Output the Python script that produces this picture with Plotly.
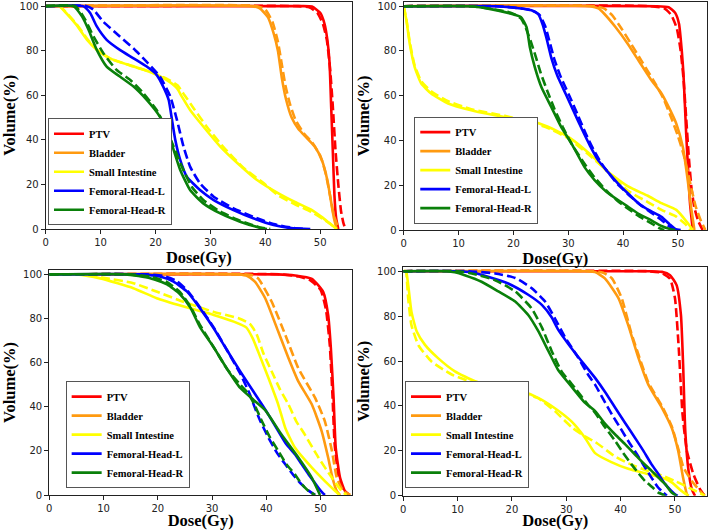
import plotly.graph_objects as go

# ---------------- data: (dose Gy, volume %) ----------------
# Panel 1 (top-left)
P1_PTV_S = [(0,100),(46,100),(48.5,99.8),(50,97),(50.8,92),(51.3,85),(51.7,75),(52.0,55),(52.3,35),(52.6,15),(52.9,5),(53.3,0)]
P1_PTV_D = [(0,100),(46,100),(48,99.5),(49.5,97),(50.5,92),(51.2,85),(51.8,72),(52.3,55),(52.8,35),(53.3,20),(53.8,8),(54.2,3),(54.6,0)]
P1_BLA_S = [(0,100),(37.5,100),(39,99),(40.5,95),(41.5,88),(42.3,80),(43,68),(43.8,58),(44.8,50),(46,45),(47.5,41),(49,37),(50.3,31),(51.3,22),(52,12),(52.5,5),(53,0)]
P1_BLA_D = [(0,100),(38.5,100),(40,98.5),(41.3,93),(42.3,84),(43,74),(43.7,64),(44.5,56),(45.5,49),(47,43),(48.5,39),(50,33),(51,25),(51.8,15),(52.5,6),(53.4,0)]
P1_SI_S = [(0,100),(2.4,100),(3.5,97.5),(5.6,91.6),(7.5,85),(9.3,80.4),(11.7,76.6),(16,72.9),(19.6,69.9),(22,66.9),(23.9,63.2),(24.8,59.4),(26.3,53.4),(28.7,46),(31.8,37),(35.4,28.5),(38.5,22),(42.4,16),(45.5,12),(48.5,8.5),(50.5,5),(51.5,3),(52.5,1),(53,0)]
P1_SI_D = [(0,100),(2.5,100),(3.6,97.5),(5.6,92),(7.5,85.5),(9.3,80.5),(11.7,76.5),(16,73),(19.6,70),(22,67.5),(24,64.5),(25.3,60),(27,54),(29.3,46),(32.3,37),(36,27.5),(40,20),(42.4,15),(45.5,11),(48.5,7.5),(50.5,4.5),(52,2),(53,0)]
P1_FHL_S = [(0,100),(6.8,100),(8.1,96.9),(9.3,90.9),(11.1,84.9),(13.5,80.4),(16,76.6),(18.4,72.9),(20.2,69.2),(21.4,63.9),(22.4,57.9),(23,49),(23.6,40),(24.5,31),(25.7,23.5),(28.1,17.5),(30.6,13),(34.2,8.5),(37.8,4.8),(41.5,1.8),(45.1,0.3),(48.2,0)]
P1_FHL_D = [(0,100),(7.5,100),(8.7,98.4),(10.5,93),(13.5,86.4),(16,81),(18.4,75),(20.8,68.4),(22.7,59.4),(23.9,49),(25.1,37),(26.3,28),(28.1,20.5),(30.6,14.5),(34.2,9.3),(37.8,5.5),(41.5,2.2),(45.1,0.5),(47.6,0)]
P1_FHR_S = [(0,100),(5,100),(6.6,95.4),(7.8,89.4),(9.3,80.4),(11.1,72.9),(13.5,68.4),(16,63.9),(18.4,57.9),(20.8,50.4),(22.4,43),(23.3,35.5),(24.5,26.5),(26.3,17.5),(28.7,11.5),(31.8,7),(35.4,3.3),(39,0.6),(40.3,0)]
P1_FHR_D = [(0,100),(5.4,100),(7.2,93.9),(8.7,86.4),(10.5,78.9),(12.9,71.4),(15.4,66.9),(17.8,60.9),(20.2,53.4),(22,44.5),(23.3,37),(24.8,28),(26.6,19),(28.7,13),(31.8,7.8),(35.4,3.7),(39,0.7),(40.9,0)]

# Panel 2 (top-right)
P2_PTV_S = [(0,100),(46,100),(48.3,99.5),(49.5,97),(50.2,92),(50.7,80),(51.0,70),(51.5,43),(51.9,25),(52.2,12),(52.7,0)]
P2_PTV_D = [(0,100),(45,100),(47.5,99),(48.8,96),(49.8,90),(50.5,80),(51,68),(51.5,50),(52,32),(52.5,18),(53,10),(53.7,4),(54.5,0)]
P2_BLA_S = [(0,100),(34,100),(35.5,99),(36.6,96.5),(38.5,91),(40.9,83),(43,75),(45,67.5),(47,61),(48.5,54),(49.7,47.5),(50.9,37),(51.8,22),(52.4,10),(53,0)]
P2_BLA_D = [(0,100),(35,100),(36.5,99),(38,96),(39.7,90),(41.5,83),(43.5,75),(45.5,67),(47.3,59),(48.8,50),(50,42),(51,34),(51.8,26),(52.5,18),(53.3,10),(54.2,4),(55,0)]
P2_SI_S = [(0,100),(0.5,93.6),(1.1,83.2),(2,72.8),(3.2,65.4),(5,61),(8.1,56.5),(12.3,53.5),(18.4,50.5),(22.7,49),(26.3,46.1),(30,41.6),(32.5,37),(34.8,32),(37,26.5),(40.9,19.5),(44.5,15.3),(47,12),(49.7,9),(51.6,3.7),(52.7,0)]
P2_SI_D = [(0,100),(0.5,94),(1.1,84),(2,73.5),(3.2,66.5),(5,62),(8.1,57.5),(12.3,54),(18.4,51),(22.7,48.5),(26.3,45.5),(30,41),(33.6,34),(36.6,27.5),(40.9,17.5),(44.5,12.5),(47,9),(49.7,6),(51.2,3),(52.3,0)]
P2_FHL_S = [(0,100),(17,100),(21.4,99),(23.3,98.2),(24.5,96.5),(25.3,92),(26,86),(26.9,77),(28,69),(29.5,61),(31,53),(32.5,45),(34,37.5),(35.5,31),(37.2,26),(39,21),(40.9,16.3),(43,11.5),(45,8.5),(47,5.9),(48.5,2.5),(49.5,0.5),(50.5,0)]
P2_FHL_D = [(0,100),(17,100),(21.5,99),(23.5,98),(24.8,96),(25.8,91),(26.5,85),(27.5,76),(28.7,68),(30.2,60),(31.8,51),(33.2,43),(34.6,36),(36,30),(37.5,25),(39,20.5),(40.9,16),(43,11.5),(45,8),(47,4.5),(48.5,1.5),(49.5,0)]
P2_FHR_S = [(0,100),(12,100),(15.4,98.9),(19.6,96.6),(21.4,95.1),(22.4,90.6),(23,81.7),(23.9,72.8),(25.1,63.9),(26.9,55),(28.7,46.1),(30.6,38.6),(33,28),(34.8,22.3),(37,17),(39,13.5),(40.9,10.4),(43,7),(45,4.5),(47,1.8),(48.5,0.5),(49.5,0)]
P2_FHR_D = [(0,100),(12,100),(15.4,99),(19.6,97),(21.4,94.5),(22.3,90),(23.2,84),(24,78),(25,70),(26.2,62),(27.5,54),(29,46),(30.6,38.5),(33,29.5),(34.8,23.5),(37,17.5),(39,13),(40.9,9.5),(43,6),(45,3.2),(46.5,1),(47.5,0)]

# Panel 3 (bottom-left)
P3_PTV_S = [(0,100),(42,100),(45.3,99.5),(48.4,98),(50.5,92),(51.4,81.6),(51.9,66.6),(52.4,44),(52.8,21.4),(53.6,7.8),(54.5,1.8),(55.3,0)]
P3_PTV_D = [(0,100),(43,100),(46,99),(48,97.5),(50,93),(51,84),(51.7,68),(52.2,45),(52.6,23),(53.3,9),(54.3,2),(55.3,0)]
P3_BLA_S = [(0,100),(35,100),(36.5,99.3),(37.9,96.7),(39.8,89.2),(42.2,74.1),(44.1,62),(45.9,51.5),(48.4,41),(50.2,29),(51.4,17),(52.2,7.8),(53,1.8),(53.6,0)]
P3_BLA_D = [(0,100),(36,100),(37.5,99.5),(38.5,98.2),(41,87.6),(43.5,72.6),(45.9,57.5),(49,44),(50.8,33.4),(52.1,20),(53,7.8),(54.2,1.8),(55.5,0)]
P3_SI_S = [(0,100),(5,100),(9.4,98.2),(15.5,93.7),(19.8,89.2),(24.8,85.4),(30.3,81.6),(34,78.6),(36.3,76),(37.5,71),(38.5,65),(40.4,53),(42.2,41),(43.5,30.4),(45.3,21.4),(48.4,12.4),(50.8,6.3),(52.7,1.8),(53.5,0)]
P3_SI_D = [(0,100),(6,100),(10,98.5),(15.5,96),(20,92),(24.8,87.5),(30.3,83),(35,80),(37,77.5),(38.2,73),(39.5,64),(41,56),(42.5,48),(44.1,41),(45.5,33.5),(47.1,27.4),(49.6,17),(52.1,7.8),(53.9,1.8),(54.8,0)]
P3_FHL_S = [(0,100),(17,100),(20.4,99),(22.9,96.7),(25.4,92.2),(27.8,84.6),(30.3,75.6),(32.8,65.5),(35.2,56),(37.2,48.5),(39.2,41),(40.5,36),(42.2,29),(43.7,23),(45.3,18.4),(46.5,14),(47.8,9.3),(48.8,6),(49.6,3.3),(50.3,1.2),(50.8,0)]
P3_FHL_D = [(0,100),(18,100),(21,99.3),(23.5,97),(25.5,92.5),(27.8,85),(30.3,76),(32.8,65.5),(35.2,55),(37,45.5),(37.9,39.5),(39,33),(40.4,26),(42,19),(43.5,13.9),(45,9),(46.5,4.8),(47.8,2),(49,0)]
P3_FHR_S = [(0,100),(14,100),(18.6,98.3),(21.7,95.5),(24.1,91),(26,85),(27.8,76),(30.3,67),(32.8,57),(35.2,48.5),(37.7,43),(39.8,38.5),(42.8,27.4),(45.9,17),(48.4,7.8),(49.9,0)]
P3_FHR_D = [(0,100),(15,100),(18.6,99),(21.7,96.5),(24.1,92),(26,85.5),(27.8,77),(30.3,67),(32.8,57),(35.2,50),(36.7,46),(38,40),(39.2,33.4),(40.7,26),(42.2,20),(43.7,14),(45.3,9.3),(46.5,5),(47.8,1.8),(49,0)]

# Panel 4 (bottom-right)
P4_PTV_S = [(0,100),(45,100),(47.6,99.7),(49.1,98.2),(50.3,93.8),(51.1,80.5),(51.5,58.4),(51.9,28.8),(52.5,11.1),(53.1,3),(53.7,0)]
P4_PTV_D = [(0,100),(45,100),(47.5,99.3),(49.1,96.6),(50,88),(50.7,65.7),(51.4,36.2),(52.2,20),(53.4,9.6),(54.6,3),(55.5,0)]
P4_BLA_S = [(0,100),(34,100),(35.3,99.6),(37.1,96.8),(39.6,88),(41.4,76),(43.3,61.3),(45.1,49.5),(47.6,39.2),(49.4,30.3),(50.6,20),(51.5,8),(52.2,0.7),(52.5,0)]
P4_BLA_D = [(0,100),(35,100),(36.8,99.3),(38.4,96.8),(40.2,88),(41.9,73),(43.3,62.7),(45.1,50.5),(47.6,40),(49.4,31),(50.6,21),(51.6,12.5),(53.1,6.6),(54.6,2.2),(55.5,0)]
P4_SI_S = [(0,100),(0.5,100),(0.9,94),(1.5,82),(2.5,73),(4,67.2),(6.4,61.3),(9.5,55.4),(13.2,51),(17.5,48),(21.8,46.5),(24.8,43.6),(27.9,39),(31,33),(33.4,26),(35.3,19),(38.3,15),(41.4,12),(44.5,10),(47.6,8.1),(49.4,6),(51.2,2.2),(52.5,0)]
P4_SI_D = [(0,100),(0.5,100),(0.7,95),(0.9,88),(1.5,76),(2.8,67),(5.2,59.8),(8.9,54),(13.2,50.2),(17.5,48),(21.8,45.8),(24.8,43.5),(27.9,37.7),(31,30.5),(33.4,26.5),(35.3,24),(39,17.5),(41.4,14.5),(44.5,11.5),(47.6,9),(50,6.6),(52.5,3.7),(54.3,1.5),(55.5,0)]
P4_FHL_S = [(0,100),(10,100),(12.5,99.5),(15.6,97.5),(19.3,94.5),(23,89.5),(25.5,85),(27.3,79.5),(28.5,74),(30.4,67.5),(32.8,60),(35.3,52.5),(37.2,46),(39,39.2),(40.8,32.5),(42.6,26),(44.2,20),(45.7,14),(47,9.5),(48.2,5.2),(49.2,2.5),(50,0.7),(50.5,0)]
P4_FHL_D = [(0,100),(12,100),(16.9,99),(20.6,97),(23.6,92.5),(26.1,86.5),(27.9,79),(29.8,70.5),(32.2,61.5),(34,54),(35.3,49.5),(36.8,43),(38.4,36.2),(40,30),(41.4,24.4),(43,18.5),(44.5,12.6),(45.7,8),(46.9,3.7),(48.5,0)]
P4_FHR_S = [(0,100),(8,100),(9.5,99.5),(11.3,98.2),(14.4,95.3),(17.5,91),(20.6,86.5),(23,80.5),(24.8,73.5),(26.7,64.5),(28.5,56),(31,48.5),(33.4,41.5),(35.3,37.7),(37,32.5),(39,27.3),(40.8,23),(42.6,18.5),(44.2,14.5),(45.7,11.1),(47,8),(48.2,5.2),(49.4,1.5),(50.3,0)]
P4_FHR_D = [(0,100),(10,100),(12.6,99),(16.9,96),(20.6,91),(23.6,83.5),(25.5,75),(27.3,64.5),(29.1,55.5),(31.6,48),(34,40.5),(35.3,37),(37,31),(39,24.4),(40.5,19),(42,14),(43.3,10),(44.5,6.6),(46,3.5),(46.9,1.5),(48.2,0)]

STRUCTURES = ["PTV", "Bladder", "Small Intestine", "Femoral-Head-L", "Femoral-Head-R"]
COLORS = ["#ff0000", "#ff9a10", "#ffff00", "#0000ff", "#0a800a"]
X_TICKS = [0, 10, 20, 30, 40, 50]
Y_TICKS = [0, 20, 40, 60, 80, 100]
X_TITLE = "Dose(Gy)"
Y_TITLE = "Volume(%)"

PANELS = [
    [(P1_PTV_S, P1_PTV_D), (P1_BLA_S, P1_BLA_D), (P1_SI_S, P1_SI_D), (P1_FHL_S, P1_FHL_D), (P1_FHR_S, P1_FHR_D)],
    [(P2_PTV_S, P2_PTV_D), (P2_BLA_S, P2_BLA_D), (P2_SI_S, P2_SI_D), (P2_FHL_S, P2_FHL_D), (P2_FHR_S, P2_FHR_D)],
    [(P3_PTV_S, P3_PTV_D), (P3_BLA_S, P3_BLA_D), (P3_SI_S, P3_SI_D), (P3_FHL_S, P3_FHL_D), (P3_FHR_S, P3_FHR_D)],
    [(P4_PTV_S, P4_PTV_D), (P4_BLA_S, P4_BLA_D), (P4_SI_S, P4_SI_D), (P4_FHL_S, P4_FHL_D), (P4_FHR_S, P4_FHR_D)],
]

# ---------------- layout geometry ----------------
W, H = 709, 530
DOMAINS = [
    ([0.0645, 0.4965], [0.5679, 0.9968]),
    ([0.5694, 0.9972], [0.5660, 0.9968]),
    ([0.0695, 0.4965], [0.0660, 0.4906]),
    ([0.5688, 0.9972], [0.0645, 0.4968]),
]
X_RANGES = [[0, 55.8], [0, 55.3], [0, 55.8], [0, 55.9]]
Y_RANGE = [0, 102]
X_STANDOFF = [0, 0, 1, 1]
# legend bottom-left corners (paper coords)
LEGEND_POS = [(0.0677, 0.575), (0.5843, 0.578), (0.0926, 0.079), (0.5712, 0.079)]

fig = go.Figure()
for p, panel in enumerate(PANELS):
    xa = "x" if p == 0 else f"x{p+1}"
    ya = "y" if p == 0 else f"y{p+1}"
    lg = "legend" if p == 0 else f"legend{p+1}"
    for s, (solid, dashed) in enumerate(panel):
        fig.add_trace(go.Scatter(
            x=[d for d, v in solid], y=[v for d, v in solid], mode="lines",
            line=dict(color=COLORS[s], width=2.6, shape="spline", smoothing=0.5),
            name=STRUCTURES[s], xaxis=xa, yaxis=ya, legend=lg, showlegend=True,
        ))
        fig.add_trace(go.Scatter(
            x=[d for d, v in dashed], y=[v for d, v in dashed], mode="lines",
            line=dict(color=COLORS[s], width=2.6, dash="9px,4px", shape="spline", smoothing=0.5),
            name=STRUCTURES[s], xaxis=xa, yaxis=ya, legend=lg, showlegend=False,
        ))

tick_font = dict(family="DejaVu Sans", size=10, color="#222222")
title_font = dict(family="Liberation Serif", size=16.5, color="#000000", weight="bold")
layout = dict(
    width=W, height=H, margin=dict(l=0, r=0, t=0, b=0),
    paper_bgcolor="white", plot_bgcolor="white",
)
for p in range(4):
    xk = "xaxis" if p == 0 else f"xaxis{p+1}"
    yk = "yaxis" if p == 0 else f"yaxis{p+1}"
    xa = "x" if p == 0 else f"x{p+1}"
    ya = "y" if p == 0 else f"y{p+1}"
    layout[xk] = dict(
        domain=DOMAINS[p][0], anchor=ya, range=X_RANGES[p], tickvals=X_TICKS,
        showgrid=False, zeroline=False, showline=True, linecolor="#222222", linewidth=1.2,
        mirror=True, ticks="outside", ticklen=4, tickcolor="#222222", tickfont=tick_font,
        title=dict(text=X_TITLE, font=title_font, standoff=X_STANDOFF[p]), automargin=False,
    )
    layout[yk] = dict(
        domain=DOMAINS[p][1], anchor=xa, range=Y_RANGE, tickvals=Y_TICKS,
        showgrid=False, zeroline=False, showline=True, linecolor="#222222", linewidth=1.2,
        mirror=True, ticks="outside", ticklen=4, tickcolor="#222222", tickfont=tick_font,
        title=dict(text=Y_TITLE, font=title_font, standoff=3), automargin=False,
    )
    lk = "legend" if p == 0 else f"legend{p+1}"
    layout[lk] = dict(
        x=LEGEND_POS[p][0], y=LEGEND_POS[p][1], xanchor="left", yanchor="bottom",
        bgcolor="white", bordercolor="#555555", borderwidth=1,
        font=dict(family="Liberation Serif", size=10.5, color="#000000", weight="bold"),
        tracegroupgap=0, itemwidth=30,
    )
fig.update_layout(**layout)
fig.write_html(
    "out.html",
    config={"displayModeBar": False},
    post_script="document.body.style.margin='0';document.body.style.overflow='hidden';",
)
